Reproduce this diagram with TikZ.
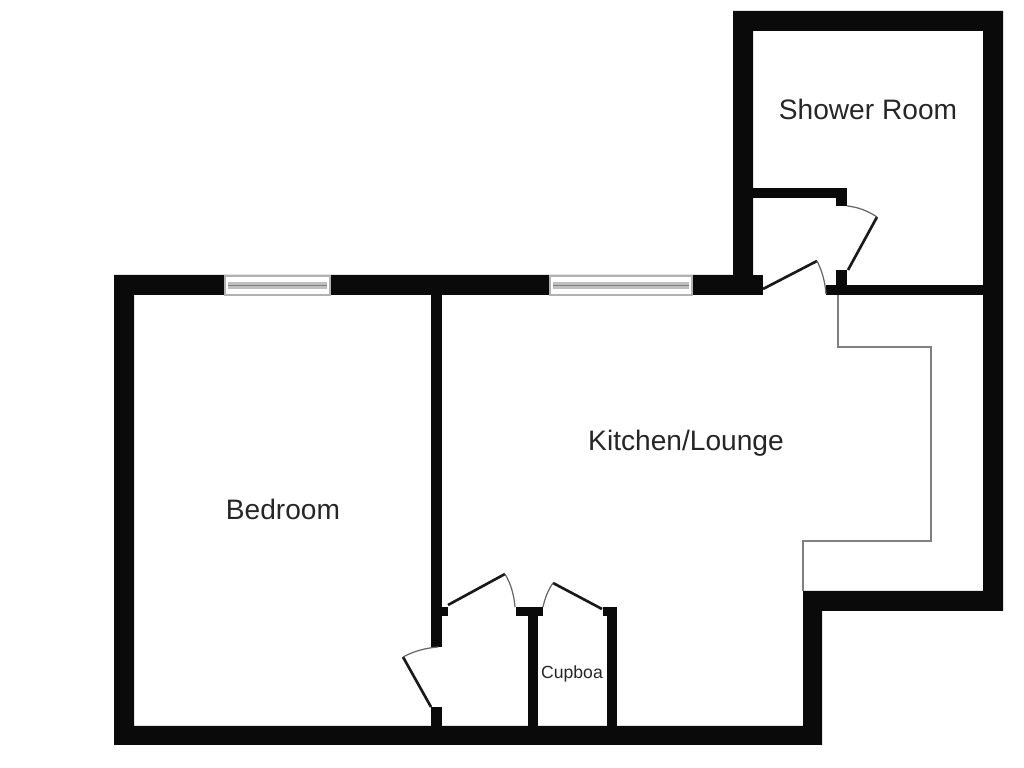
\documentclass[tikz,border=0pt]{standalone}
\usepackage{fontspec}
\setmainfont{Liberation Sans}
\tikzset{
    wall/.style={fill=black!96,draw=none},
    leaf/.style={draw=black!90,line width=0.75pt},
    swing/.style={draw=black!60,line width=0.35pt},
    outline/.style={draw=black!50,line width=0.3pt},
    room/.style={font=\fontsize{8}{10}\selectfont,text=black!85,inner sep=0pt},
}
\begin{document}
\begin{tikzpicture}[x=0.01cm,y=-0.01cm]
        \useasboundingbox (0,0) rectangle (1024,768);
        % outer walls
        \fill[wall] (733,11) -- (1003,11) -- (1003,611) -- (822,611) -- (822,745) -- (114,745) -- (114,275) -- (733,275) -- cycle
            (753,31) -- (753,295) -- (134,295) -- (134,726) -- (803,726) -- (803,591) -- (983,591) -- (983,31) -- cycle;
        \fill[wall] (753,275) rectangle (763,295);
        % shower room walls
        \fill[wall] (753,188) rectangle (847,198);
        \fill[wall] (836,188) rectangle (847,206);
        \fill[wall] (836,270) rectangle (847,295);
        \fill[wall] (826,285) rectangle (983,295);
        % bedroom wall
        \fill[wall] (431,295) rectangle (442,647);
        \fill[wall] (431,607) rectangle (448,616);
        \fill[wall] (431,707) rectangle (442,726);
        % cupboard walls
        \fill[wall] (516,607) rectangle (543,616);
        \fill[wall] (528,607) rectangle (538,726);
        \fill[wall] (603,607) rectangle (617,616);
        \fill[wall] (607,607) rectangle (617,726);
        % windows
        \foreach \xa/\xb in {225/330, 550/692}{
            \draw[draw=black!30,line width=0.3pt,fill=white] (\xa,276) rectangle (\xb,295);
            \fill[black!25] (\xa+3,282) rectangle (\xb-3,289);
            \draw[black!50,line width=0.4pt] (\xa+3,285.5) -- (\xb-3,285.5);
        }
        % doors
        \draw[leaf] (763,289) -- (817,261);
        \draw[swing] (817,261) .. controls (822,271) and (825,281) .. (826,294);
        \draw[leaf] (848,270) -- (877,217);
        \draw[swing] (847,206) .. controls (858,207) and (868,211) .. (877,217);
        \draw[leaf] (448,605) -- (505,574);
        \draw[swing] (505,574) .. controls (511,584) and (514,595) .. (515,607);
        \draw[leaf] (431,707) -- (403,657);
        \draw[swing] (403,657) .. controls (414,651) and (426,648) .. (438,647);
        \draw[leaf] (602,609) -- (553,583);
        \draw[swing] (553,583) .. controls (548,590) and (545,598) .. (543,607);
        % thin outline of the kitchen units
        \draw[outline] (838,295) -- (838,347) -- (931,347) -- (931,541) -- (803,541) -- (803,591);
        % labels
        \node[room] (shower) at (868,109) {Shower Room};
        \node[room] (kitchen) at (686,443) {Kitchen/Lounge};
        \node[room] (bedroom) at (283,509) {Bedroom};
        \node[room,font=\fontsize{5}{6}\selectfont] (cupboard) at (572,674) {Cupboa};
    \end{tikzpicture}
\end{document}
